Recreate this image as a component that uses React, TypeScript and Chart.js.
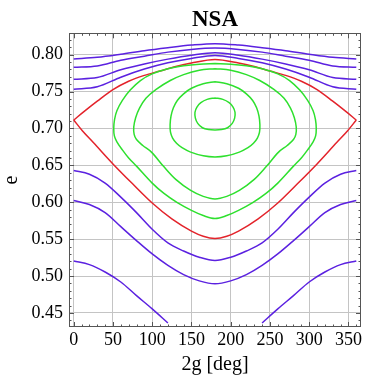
import React, { useEffect, useRef } from "react";
import { Chart, registerables } from "chart.js";

Chart.register(...registerables);

const FONT = "'Liberation Serif', 'DejaVu Serif', serif";

// axis ticks
const xTicks = [0, 50, 100, 150, 200, 250, 300, 350];
const yTicks = [0.45, 0.5, 0.55, 0.6, 0.65, 0.7, 0.75, 0.8];

// upper circulating curves (blue)
const topX = [0, 30, 60, 90, 120, 150, 180, 210, 240, 270, 300, 330, 360];
const t1 = [0.7942, 0.7964, 0.8006, 0.8055, 0.8095, 0.813, 0.815, 0.813, 0.8095, 0.8055, 0.8006, 0.7964, 0.7942];
const t2 = [0.783, 0.7848, 0.7925, 0.798, 0.8035, 0.8072, 0.809, 0.8072, 0.8035, 0.798, 0.7925, 0.7848, 0.783];
const t3 = [0.7668, 0.769, 0.7796, 0.7875, 0.794, 0.7993, 0.8027, 0.7993, 0.794, 0.7875, 0.7796, 0.769, 0.7668];
const t4 = [0.7531, 0.7565, 0.7695, 0.7805, 0.789, 0.795, 0.799, 0.795, 0.789, 0.7805, 0.7695, 0.7565, 0.7531];

// separatrix (red)
const redUpX = [0, 13, 30, 50, 70, 90, 110, 130, 150, 180, 210, 230, 250, 270, 290, 310, 330, 347, 360];
const redUp = [0.7115, 0.7228, 0.737, 0.7527, 0.764, 0.772, 0.778, 0.784, 0.7888, 0.7936, 0.7888, 0.784, 0.778, 0.772, 0.764, 0.7527, 0.737, 0.7228, 0.7115];
const redLowX = [0, 11, 25, 50, 75, 100, 125, 150, 165, 180, 195, 210, 235, 260, 285, 310, 335, 349, 360];
const redLow = [0.7115, 0.697, 0.681, 0.652, 0.625, 0.599, 0.5775, 0.561, 0.554, 0.551, 0.554, 0.561, 0.5775, 0.599, 0.625, 0.652, 0.681, 0.697, 0.7115];

// lower circulating curves (blue)
const lowX = [0, 20, 40, 60, 80, 100, 120, 140, 160, 180, 200, 220, 240, 260, 280, 300, 320, 340, 360];
const bA = [0.643, 0.638, 0.626, 0.607, 0.586, 0.5635, 0.545, 0.534, 0.5255, 0.521, 0.5255, 0.534, 0.545, 0.5635, 0.586, 0.607, 0.626, 0.638, 0.643];
const bB = [0.6025, 0.597, 0.586, 0.567, 0.548, 0.53, 0.5145, 0.502, 0.4935, 0.4895, 0.4935, 0.502, 0.5145, 0.53, 0.548, 0.567, 0.586, 0.597, 0.6025];
const cLeftX = [0, 20, 40, 60, 80, 100, 120];
const cLeft = [0.5205, 0.5155, 0.5055, 0.492, 0.4735, 0.4555, 0.4365];
const cRightX = [240, 260, 280, 300, 320, 340, 360];
const cRight = [0.4365, 0.4555, 0.4735, 0.492, 0.5055, 0.5155, 0.5205];

// librating curves (green)
const g1X = [180, 160, 140, 120, 100, 85, 72, 62, 55, 52, 51, 51.8, 55, 62, 70, 80, 100, 115, 132, 150, 165, 180, 195, 210, 228, 245, 260, 280, 290, 298, 305, 308.2, 309, 308, 305, 298, 288, 275, 260, 240, 220, 200, 180];
const g1Y = [0.788, 0.7872, 0.785, 0.781, 0.774, 0.765, 0.752, 0.738, 0.724, 0.712, 0.7, 0.69, 0.682, 0.671, 0.66, 0.649, 0.626, 0.612, 0.5995, 0.589, 0.582, 0.578, 0.582, 0.589, 0.5995, 0.612, 0.626, 0.649, 0.66, 0.671, 0.682, 0.69, 0.7, 0.712, 0.724, 0.738, 0.752, 0.765, 0.774, 0.781, 0.785, 0.7872, 0.788];
const g2X = [180, 160, 140, 123, 105, 92, 84, 79, 76.5, 77, 80, 88, 99, 115, 130, 149, 165, 180, 195, 211, 230, 245, 261, 272, 280, 283, 283.5, 281, 276, 268, 255, 237, 220, 200, 180];
const g2Y = [0.781, 0.779, 0.773, 0.765, 0.753, 0.741, 0.728, 0.715, 0.702, 0.692, 0.685, 0.677, 0.668, 0.648, 0.631, 0.616, 0.608, 0.6046, 0.608, 0.616, 0.631, 0.648, 0.668, 0.677, 0.685, 0.692, 0.702, 0.715, 0.728, 0.741, 0.753, 0.765, 0.773, 0.779, 0.781];
const g3X = [180, 165, 150, 140, 132, 127, 124, 122.8, 123.3, 126, 131, 138, 149, 165, 180, 195, 211, 222, 229, 234, 236.7, 237.2, 236, 233, 228, 220, 210, 195, 180];
const g3Y = [0.7634, 0.7607, 0.7545, 0.747, 0.738, 0.728, 0.717, 0.705, 0.695, 0.687, 0.68, 0.674, 0.668, 0.663, 0.6614, 0.663, 0.668, 0.674, 0.68, 0.687, 0.695, 0.705, 0.717, 0.728, 0.738, 0.747, 0.7545, 0.7607, 0.7634];
const g4X = [180, 170, 162, 157, 154.5, 155, 158, 164, 172, 180, 188, 196, 202, 205, 205.5, 203, 198, 190, 180];
const g4Y = [0.7414, 0.7395, 0.735, 0.729, 0.722, 0.714, 0.707, 0.701, 0.6985, 0.698, 0.6985, 0.701, 0.707, 0.714, 0.722, 0.729, 0.735, 0.7395, 0.7414];

const BLUE = "#5b21e0";
const RED = "#e3232b";
const GREEN = "#2ee02e";

function pts(xs: number[], ys: number[]) {
  return xs.map((x, i) => ({ x, y: ys[i] }));
}

function line(xs: number[], ys: number[], color: string, closed = false) {
  return {
    data: pts(xs, ys),
    borderColor: color,
    backgroundColor: color,
    borderWidth: 1.5,
    pointRadius: 0,
    showLine: true,
    fill: false,
    tension: closed ? 0.35 : 0.4,
    cubicInterpolationMode: closed ? "default" : "monotone",
  };
}

const framePlugin = {
  id: "frameTicks",
  afterDatasetsDraw(chart: any) {
    const { ctx, chartArea, scales } = chart;
    const { left, right, top, bottom } = chartArea;
    const xs = scales.x;
    const ys = scales.y;
    ctx.save();
    ctx.strokeStyle = "#555";
    ctx.lineWidth = 1;
    ctx.beginPath();
    for (let v = 0; v <= 360; v += 10) {
      const px = Math.round(xs.getPixelForValue(v)) + 0.5;
      const len = v % 50 === 0 ? 5 : 2.5;
      ctx.moveTo(px, bottom);
      ctx.lineTo(px, bottom - len);
      ctx.moveTo(px, top);
      ctx.lineTo(px, top + len);
    }
    for (let k = 44; k <= 82; k++) {
      const py = Math.round(ys.getPixelForValue(k / 100)) + 0.5;
      const len = k % 5 === 0 ? 5 : 2.5;
      ctx.moveTo(left, py);
      ctx.lineTo(left + len, py);
      ctx.moveTo(right, py);
      ctx.lineTo(right - len, py);
    }
    ctx.stroke();
    ctx.strokeRect(Math.round(left) + 0.5, Math.round(top) + 0.5, Math.round(right - left) - 1, Math.round(bottom - top) - 1);
    ctx.restore();
  },
};

export default function App() {
  const ref = useRef<HTMLCanvasElement | null>(null);
  useEffect(() => {
    if (!ref.current) return;
    const datasets: any[] = [
      line(topX, t1, BLUE),
      line(topX, t2, BLUE),
      line(topX, t3, BLUE),
      line(topX, t4, BLUE),
      line(lowX, bA, BLUE),
      line(lowX, bB, BLUE),
      line(cLeftX, cLeft, BLUE),
      line(cRightX, cRight, BLUE),
      line(g1X, g1Y, GREEN, true),
      line(g2X, g2Y, GREEN, true),
      line(g3X, g3Y, GREEN, true),
      line(g4X, g4Y, GREEN, true),
      line(redUpX, redUp, RED),
      line(redLowX, redLow, RED),
    ];
    const chart = new Chart(ref.current, {
      type: "scatter",
      data: { datasets },
      plugins: [framePlugin],
      options: {
        animation: false,
        responsive: true,
        maintainAspectRatio: false,
        events: [],
        layout: { padding: { left: 0, right: 10, top: 0, bottom: 0 } },
        plugins: {
          legend: { display: false },
          tooltip: { enabled: false },
          title: {
            display: true,
            text: "NSA",
            fullSize: false,
            color: "#000",
            font: { family: FONT, size: 23, weight: "bold", lineHeight: 1.1 },
            padding: { top: 7, bottom: 1 },
          },
        },
        scales: {
          x: {
            type: "linear",
            min: -6,
            max: 366,
            afterBuildTicks: (s: any) => {
              s.ticks = xTicks.map((v) => ({ value: v }));
            },
            afterFit: (s: any) => {
              s.height = 56;
            },
            grid: { color: "#c4c4c4", lineWidth: 1, drawTicks: false },
            border: { display: false },
            ticks: {
              padding: 2,
              color: "#000",
              maxRotation: 0,
              autoSkip: false,
              font: { family: FONT, size: 18 },
              callback: (v: any) => String(v),
            },
            title: {
              display: true,
              text: "2g [deg]",
              color: "#000",
              font: { family: FONT, size: 20 },
              padding: { top: 0, bottom: 6 },
            },
          },
          y: {
            type: "linear",
            min: 0.431,
            max: 0.829,
            afterBuildTicks: (s: any) => {
              s.ticks = yTicks.map((v) => ({ value: v }));
            },
            afterFit: (s: any) => {
              s.width = 69;
            },
            grid: { color: "#c4c4c4", lineWidth: 1, drawTicks: false },
            border: { display: false },
            ticks: {
              padding: 6,
              color: "#000",
              autoSkip: false,
              font: { family: FONT, size: 18 },
              callback: (v: any) => Number(v).toFixed(2),
            },
            title: {
              display: true,
              text: "e",
              color: "#000",
              font: { family: FONT, size: 20 },
              padding: { top: 0, bottom: 0 },
            },
          },
        },
      },
    } as any);
    return () => chart.destroy();
  }, []);

  return (
    <div style={{ position: "absolute", left: 0, top: 0, width: 371, height: 383, background: "#fff" }}>
      <canvas ref={ref} />
    </div>
  );
}
